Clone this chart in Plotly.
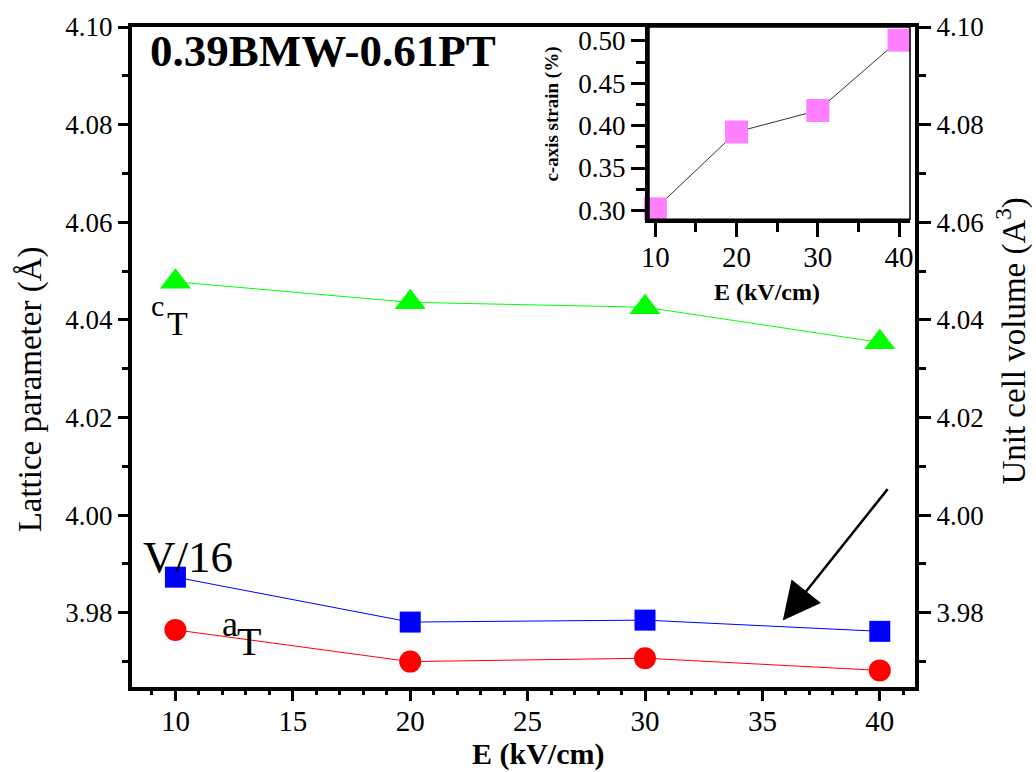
import plotly.graph_objects as go

# ---------------- data ----------------
E = [10, 20, 30, 40]
c_T = [4.0478, 4.0436, 4.0426, 4.0354]
V16 = [3.9873, 3.9781, 3.9785, 3.9762]
a_T = [3.9765, 3.9700, 3.9707, 3.9682]

E_inset = [10, 20, 30, 40]
strain = [0.3018, 0.3925, 0.4178, 0.5008]

main_xticks = [10, 15, 20, 25, 30, 35, 40]
main_yticks = [3.98, 4.00, 4.02, 4.04, 4.06, 4.08, 4.10]
inset_xticks = [10, 20, 30, 40]
inset_yticks = [0.30, 0.35, 0.40, 0.45, 0.50]

FONT = "Liberation Serif, Times New Roman, serif"
W, H = 1036, 772
ML, MR, MT, MB = 132, 121, 24, 85
PW, PH = W - ML - MR, H - MT - MB


def px(x):
    return (x - ML) / PW


def py(y):
    return (H - MB - y) / PH


fig = go.Figure()

fig.add_trace(go.Scatter(
    x=E, y=c_T, mode="lines+markers", name="c_T",
    line=dict(color="#00ff00", width=1),
    marker=dict(symbol="triangle-up", size=27, color="#00ff00"),
    cliponaxis=False))
fig.add_trace(go.Scatter(
    x=E, y=V16, mode="lines+markers", name="V/16", yaxis="y2",
    line=dict(color="#0000ff", width=1),
    marker=dict(symbol="square", size=21, color="#0000ff"),
    cliponaxis=False))
fig.add_trace(go.Scatter(
    x=E, y=a_T, mode="lines+markers", name="a_T",
    line=dict(color="#ff0000", width=1),
    marker=dict(symbol="circle", size=22, color="#ff0000"),
    cliponaxis=False))

fig.add_trace(go.Scatter(
    x=E_inset, y=strain, mode="lines+markers", name="strain",
    xaxis="x3", yaxis="y3",
    line=dict(color="#333333", width=1),
    marker=dict(symbol="square", size=23, color="#ff80ff"),
    cliponaxis=False))

yrange = [3.9648, 4.10]
tickfont_y = dict(family=FONT, size=27, color="black")
tickfont_x = dict(family=FONT, size=29, color="black")

fig.update_layout(
    width=W, height=H,
    margin=dict(l=ML, r=MR, t=MT, b=MB),
    paper_bgcolor="white", plot_bgcolor="white",
    showlegend=False,
    font=dict(family=FONT, color="black"),
    xaxis=dict(
        range=[8.15, 41.5], showgrid=False, zeroline=False,
        showline=True, linewidth=4, linecolor="black", mirror=True,
        tickmode="array", tickvals=main_xticks,
        ticktext=[str(v) for v in main_xticks],
        ticks="outside", ticklen=10, tickwidth=3, tickcolor="black",
        ticklabelstandoff=-5,
        minor=dict(dtick=1, tick0=10, ticks="outside", ticklen=4,
                   tickwidth=3, tickcolor="black"),
        tickfont=tickfont_x,
    ),
    yaxis=dict(
        range=yrange, showgrid=False, zeroline=False,
        showline=True, linewidth=4, linecolor="black",
        tickmode="array", tickvals=main_yticks,
        ticktext=["%.2f" % v for v in main_yticks],
        ticks="outside", ticklen=10, tickwidth=3, tickcolor="black",
        minor=dict(dtick=0.01, tick0=4.0, ticks="outside", ticklen=6,
                   tickwidth=3, tickcolor="black"),
        tickfont=tickfont_y,
    ),
    yaxis2=dict(
        range=yrange, overlaying="y", side="right", anchor="x",
        showgrid=False, zeroline=False,
        showline=True, linewidth=4, linecolor="black",
        tickmode="array", tickvals=main_yticks,
        ticktext=["%.2f" % v for v in main_yticks],
        ticks="outside", ticklen=12, tickwidth=3, tickcolor="black",
        minor=dict(dtick=0.01, tick0=4.0, ticks="outside", ticklen=7,
                   tickwidth=3, tickcolor="black"),
        tickfont=tickfont_y,
    ),
    xaxis3=dict(
        domain=[px(649), px(910)], anchor="y3",
        range=[9.22, 41.35], showgrid=False, zeroline=False,
        showline=True, linewidth=4, linecolor="black",
        tickmode="array", tickvals=inset_xticks,
        ticktext=[str(v) for v in inset_xticks],
        ticks="outside", ticklen=14, tickwidth=3, tickcolor="black",
        ticklabelstandoff=-5,
        minor=dict(dtick=5, tick0=10, ticks="outside", ticklen=9,
                   tickwidth=3, tickcolor="black"),
        tickfont=tickfont_x,
    ),
    yaxis3=dict(
        domain=[py(217), 1.0], anchor="x3",
        range=[0.2897, 0.5163], showgrid=False, zeroline=False,
        showline=True, linewidth=4, linecolor="black",
        tickmode="array", tickvals=inset_yticks,
        ticktext=["%.2f" % v for v in inset_yticks],
        ticks="outside", ticklen=14, tickwidth=3, tickcolor="black",
        minor=dict(dtick=0.025, tick0=0.3, ticks="outside", ticklen=9,
                   tickwidth=3, tickcolor="black"),
        tickfont=tickfont_y,
    ),
)

# thin frame around the inset
fig.add_shape(type="rect", xref="x3 domain", yref="y3 domain",
              x0=0, x1=1, y0=0, y1=1, line=dict(color="black", width=1.5),
              layer="above")

ann = []


def text(x, y, s, size, bold=False, angle=0, xanchor="center"):
    if bold:
        s = "<b>" + s + "</b>"
    ann.append(dict(x=px(x), y=py(y), xref="paper", yref="paper", text=s,
                    showarrow=False, textangle=angle, xanchor=xanchor,
                    yanchor="middle",
                    font=dict(family=FONT, size=size, color="black")))


text(148, 48, "0.39BMW-0.61PT", 45, bold=True, xanchor="left")
text(157, 304, "c", 30)
text(177, 322, "T", 34)
text(188, 556, "V/16", 45)
text(230, 624, "a", 36)
text(249, 641, "T", 40)
text(538, 754, "E (kV/cm)", 30, bold=True)
text(30, 388, "Lattice parameter (Å)", 33, angle=-90)
text(1012, 340, "Unit cell volume (A<sup>3</sup>)", 33, angle=-90)
text(767, 290, "E (kV/cm)", 24, bold=True)
text(552, 112, "c-axis strain (%)", 19, bold=True, angle=-90)

# arrow
ann.append(dict(x=35.87, y=3.9784, xref="x", yref="y",
                ax=106, ay=-133, axref="pixel", ayref="pixel",
                showarrow=True, arrowhead=2, arrowsize=3,
                arrowwidth=2.5, arrowcolor="black", text=""))

fig.update_layout(annotations=ann)

fig.write_html("out.html")
